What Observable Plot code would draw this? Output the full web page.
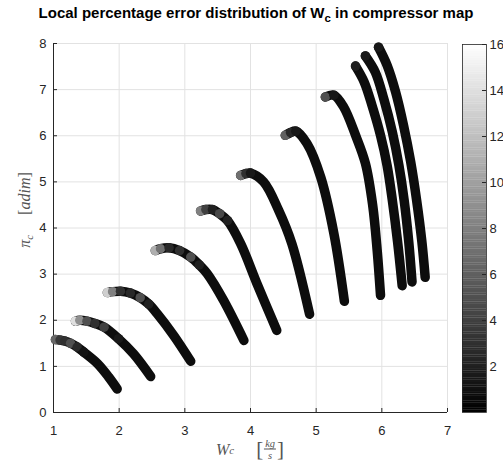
<!DOCTYPE html>
<html><head><meta charset="utf-8">
<script src="https://cdn.jsdelivr.net/npm/d3@7"></script>
<script src="https://cdn.jsdelivr.net/npm/@observablehq/plot@0.6"></script>
<style>
body{margin:0;background:#fff;}
#wrap{position:relative;width:503px;height:463px;overflow:hidden;font-family:"Liberation Sans",Arial,sans-serif;}
#title{position:absolute;top:4px;left:0;width:512px;text-align:center;font-weight:bold;font-size:15px;color:#000;white-space:nowrap;}
#title sub{font-size:11.5px;vertical-align:-4px;line-height:0}
.abs{position:absolute;}
.tex{font-family:"Liberation Serif","DejaVu Serif",serif;color:#555;white-space:nowrap;font-size:16px;}
.tex i{font-style:italic}
.tex sub{font-size:11px;vertical-align:-3px;line-height:0;font-style:italic}
#main{position:absolute;left:0;top:0;}
#cbar{position:absolute;left:440px;top:0;}
#ylab{left:25px;top:210px;transform:translate(-50%,-50%) rotate(-90deg);}
#xlab{left:250px;top:449px;transform:translate(-50%,-50%);display:flex;align-items:center;}
.frac{display:inline-flex;flex-direction:column;align-items:center;font-size:10.5px;font-style:italic;margin:0 1px;line-height:1.05}
.frac .num{border-bottom:1px solid #555;padding:0 1px}
.br{font-size:21px;font-style:normal}
</style></head><body>
<div id="wrap">
  <div id="main"></div>
  <div id="cbar"></div>
  <div id="title">Local percentage error distribution of W<sub>c</sub> in compressor map</div>
  <div id="ylab" class="abs tex"><i>π</i><sub>c</sub>&nbsp;&nbsp;&nbsp;&nbsp;&nbsp;[<i>adim</i>]</div>
  <div id="xlab" class="abs tex"><i>W</i><sub>c</sub><span style="display:inline-block;width:22px"></span><span class="br">[</span><span class="frac"><span class="num">kg</span><span>s</span></span><span class="br">]</span></div>
</div>
<script>
// Speed lines: mass flow W_c, pressure ratio pi_c, local % error
const W1 = [1.03, 1.10, 1.17, 1.26, 1.36, 1.46, 1.67, 1.84, 1.97];
const P1 = [1.58, 1.57, 1.55, 1.50, 1.42, 1.31, 1.06, 0.77, 0.51];
const E1 = [6.5, 3.5, 3.0, 5.0, 2.5, 1.2, 0.8, 0.8, 0.8];

const W2 = [1.335, 1.40, 1.51, 1.63, 1.77, 1.99, 2.22, 2.48];
const P2 = [1.98, 2.00, 1.98, 1.93, 1.85, 1.60, 1.27, 0.78];
const E2 = [14, 9, 5, 3, 4, 1.5, 0.8, 0.8];

const W3 = [1.82, 1.90, 2.02, 2.17, 2.32, 2.45, 2.58, 2.83, 3.09];
const P3 = [2.60, 2.62, 2.63, 2.59, 2.49, 2.35, 2.14, 1.67, 1.11];
const E3 = [13, 8, 3, 2.5, 5, 2, 1, 0.8, 0.8];

const W4 = [2.55, 2.63, 2.76, 2.92, 3.09, 3.22, 3.34, 3.59, 3.90];
const P4 = [3.51, 3.55, 3.57, 3.51, 3.37, 3.20, 3.01, 2.43, 1.56];
const E4 = [11, 7, 2.5, 3, 5, 2, 1, 0.8, 0.8];

const W5 = [3.24, 3.32, 3.42, 3.53, 3.65, 3.85, 4.10, 4.40];
const P5 = [4.37, 4.40, 4.40, 4.31, 4.16, 3.66, 2.79, 1.78];
const E5 = [8, 4, 2, 4.5, 2, 1, 0.8, 0.8];

const W6 = [3.85, 3.93, 4.00, 4.20, 4.43, 4.63, 4.90];
const P6 = [5.14, 5.18, 5.19, 5.00, 4.38, 3.66, 2.13];
const E6 = [7, 3, 1.5, 1, 0.8, 0.8, 0.8];

const W7 = [4.53, 4.61, 4.69, 4.86, 5.07, 5.27, 5.43];
const P7 = [6.01, 6.07, 6.10, 5.83, 5.10, 3.88, 2.41];
const E7 = [6, 2.5, 1.5, 1, 0.8, 0.8, 0.8];

const W8 = [5.14, 5.27, 5.42, 5.60, 5.75, 5.86, 5.93, 5.98];
const P8 = [6.84, 6.88, 6.62, 6.01, 5.40, 4.50, 3.50, 2.54];
const E8 = [5, 1.5, 1, 0.8, 0.8, 0.8, 0.8, 0.8];

const W9 = [5.60, 5.73, 5.85, 5.98, 6.08, 6.16, 6.24, 6.31];
const P9 = [7.51, 7.17, 6.66, 6.01, 5.36, 4.60, 3.70, 2.75];
const E9 = [2, 1, 0.8, 0.8, 0.8, 0.8, 0.8, 0.8];

const W10 = [5.75, 5.90, 6.03, 6.16, 6.26, 6.34, 6.41, 6.46];
const P10 = [7.73, 7.38, 6.80, 6.08, 5.36, 4.60, 3.70, 2.83];
const E10 = [1.5, 0.8, 0.8, 0.8, 0.8, 0.8, 0.8, 0.8];

const W11 = [5.95, 6.08, 6.21, 6.33, 6.44, 6.53, 6.61, 6.66];
const P11 = [7.92, 7.53, 6.95, 6.23, 5.43, 4.60, 3.70, 2.93];
const E11 = [1.5, 0.8, 0.8, 0.8, 0.8, 0.8, 0.8, 0.8];

const xTicks = [1, 2, 3, 4, 5, 6, 7];
const yTicks = [0, 1, 2, 3, 4, 5, 6, 7, 8];
const cbTicks = [2, 4, 6, 8, 10, 12, 14, 16];

const lines = [[W1,P1,E1],[W2,P2,E2],[W3,P3,E3],[W4,P4,E4],[W5,P5,E5],[W6,P6,E6],
               [W7,P7,E7],[W8,P8,E8],[W9,P9,E9],[W10,P10,E10],[W11,P11,E11]];
const rows = lines.flatMap(([w,p,e],k) => w.map((x,i) => ({line:k+1, w:x, pi:p[i], err:e[i]})));

const color = {type:"linear", domain:[0,16], range:["#000000","#ffffff"]};
const font = {fontFamily:"Liberation Sans, Arial, sans-serif", fontSize:"13px", color:"#262626", background:"transparent"};
const axc = "#262626", gridc = "#e2e2e2";
const fmt = d => String(d);

const main = Plot.plot({
  width:460, height:463, marginLeft:53, marginRight:13, marginTop:43, marginBottom:51,
  x:{domain:[1,7]}, y:{domain:[0,8]}, color, style:font,
  marks:[
    Plot.gridX(xTicks, {stroke:gridc, strokeOpacity:1}),
    Plot.gridY(yTicks, {stroke:gridc, strokeOpacity:1}),
    Plot.ruleX([1], {stroke:axc}),
    Plot.ruleY([0], {stroke:axc}),
    Plot.ruleX(xTicks, {x:d=>d, y1:0, y2:0, insetTop:-4, stroke:axc}),
    Plot.ruleY(yTicks, {y:d=>d, x1:1, x2:1, insetRight:-4, stroke:axc}),
    Plot.axisX({ticks:xTicks, tickFormat:fmt, tickSize:0, tickPadding:13, label:null, fontSize:13}),
    Plot.axisY({ticks:yTicks, tickFormat:fmt, tickSize:0, tickPadding:7, label:null, fontSize:13}),
    Plot.line(rows, {x:"w", y:"pi", z:"line", stroke:"#0d0d0d", strokeWidth:9.5, strokeLinecap:"round", strokeLinejoin:"round", curve:"catmull-rom"}),
    Plot.dot(rows.filter(d => d.err > 1), {x:"w", y:"pi", r:4.75, fill:"err", stroke:"none"})
  ]
});
document.getElementById("main").append(main);

const cbVals = d3.range(0, 16, 0.1);
const cb = Plot.plot({
  width:63, height:463, marginLeft:22, marginRight:17, marginTop:44, marginBottom:51,
  y:{domain:[0,16]}, color, style:font,
  marks:[
    Plot.rect(cbVals, {y1:d=>d, y2:d=>d+0.11, fill:d=>d+0.05}),
    Plot.frame({stroke:axc, strokeWidth:0.8}),
    Plot.ruleY(cbTicks, {y:d=>d, insetLeft:20, stroke:axc}),
    Plot.axisY({ticks:cbTicks, tickFormat:fmt, anchor:"right", tickSize:0, tickPadding:3, label:null, fontSize:13})
  ]
});
document.getElementById("cbar").append(cb);
</script>
</body></html>
